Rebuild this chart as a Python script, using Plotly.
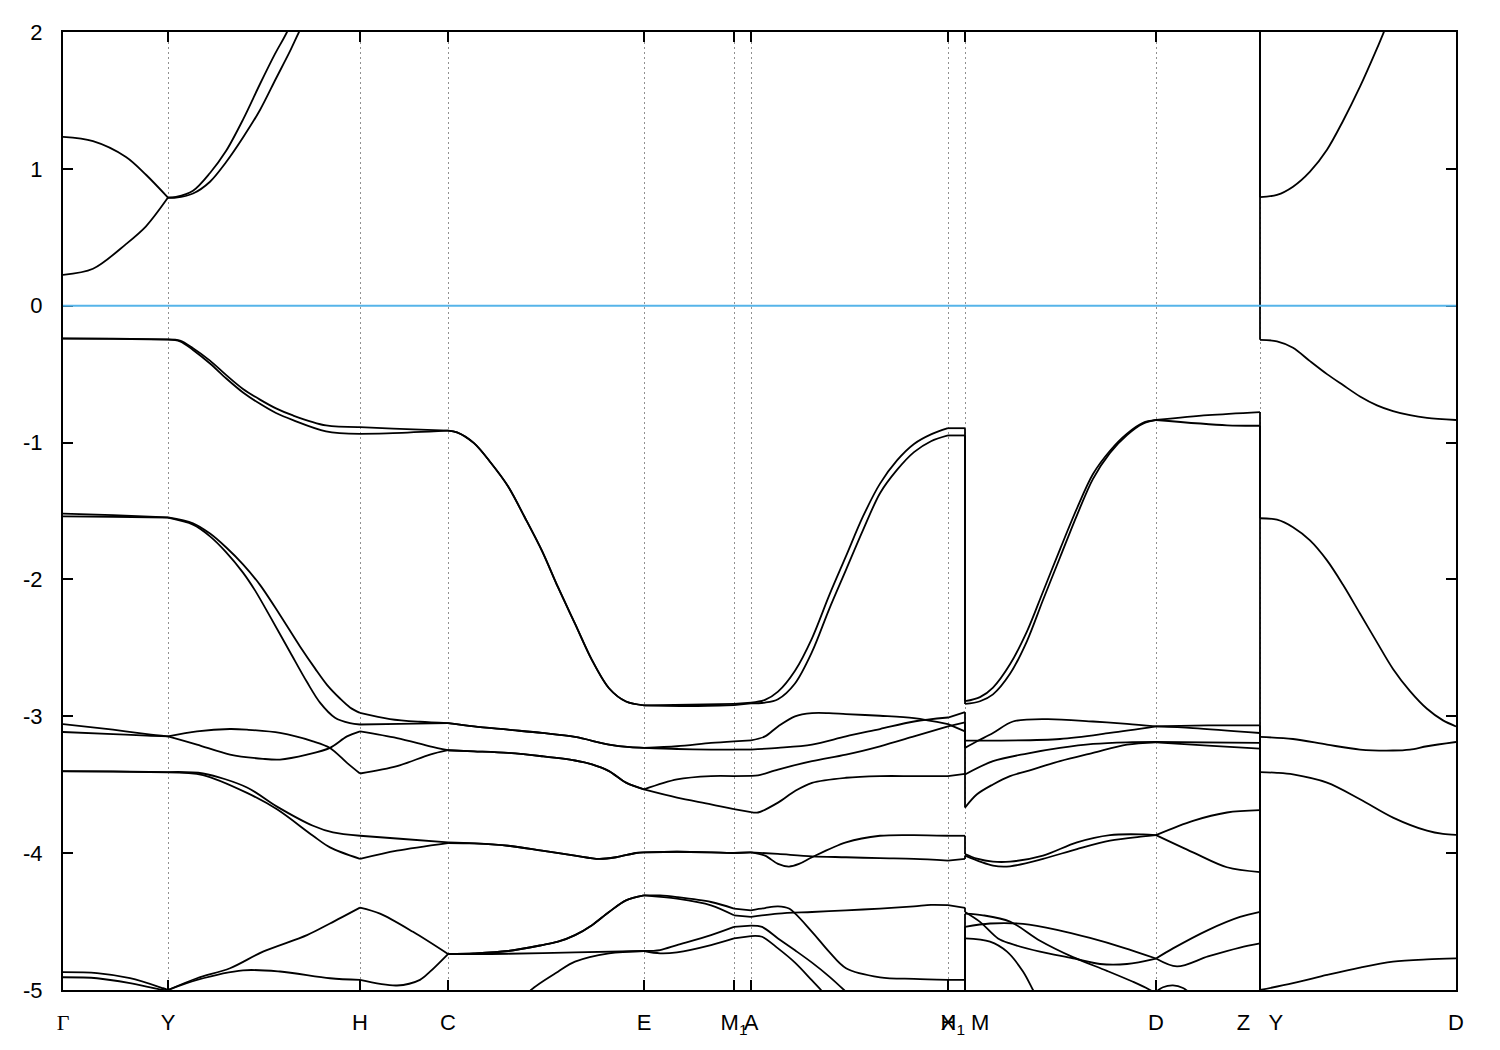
import plotly.graph_objects as go

# ---------------- axes / labels ----------------
K_POS = [0.000, 0.105, 0.297, 0.385, 0.581, 0.671, 0.688, 0.885, 0.902, 1.093, 1.197, 1.393]
K_TEXT = ["<span style='font-family:Liberation Serif'>Γ</span>", "Y", "H", "C", "E",
          "M<sub>1</sub>", "A", "X", "H<sub>1</sub> M", "D", "Z\u00a0\u00a0\u00a0Y", "D"]
BREAKS = [0.902, 1.197]
E_TICKS = [2, 1, 0, -1, -2, -3, -4, -5]
E_TEXT = ["2", "1", "0", "-1", "-2", "-3", "-4", "-5"]
E_RANGE = [-5, 2]
E_FERMI = 0.0
E_FLOOR = -6.0

# ---------------- band data (k, E) ----------------
# Region 1: Gamma -> H1
cb1_r1 = [(0.000, 0.225), (0.030, 0.27), (0.063, 0.45), (0.083, 0.58), (0.105, 0.79), (0.113, 0.79),
          (0.130, 0.82), (0.147, 0.906), (0.163, 1.048), (0.180, 1.229), (0.197, 1.43), (0.213, 1.66),
          (0.227, 1.86), (0.236, 2.0), (0.257, 2.3), (0.902, 4.0)]
cb2_r1 = [(0.000, 1.234), (0.030, 1.203), (0.063, 1.087), (0.083, 0.957), (0.105, 0.79), (0.113, 0.795),
          (0.130, 0.84), (0.147, 0.97), (0.163, 1.13), (0.180, 1.36), (0.197, 1.62), (0.212, 1.84),
          (0.224, 2.0), (0.245, 2.35), (0.902, 4.2)]

vb1_GC = [(0.000, -0.238), (0.050, -0.240), (0.105, -0.246), (0.117, -0.255), (0.130, -0.31), (0.147, -0.401),
          (0.163, -0.505), (0.180, -0.608), (0.197, -0.686), (0.213, -0.75), (0.230, -0.802), (0.263, -0.875),
          (0.297, -0.887), (0.330, -0.898), (0.385, -0.913)]
vb2_GC = [(0.000, -0.240), (0.050, -0.242), (0.105, -0.248), (0.117, -0.26), (0.130, -0.323), (0.147, -0.422),
          (0.163, -0.53), (0.180, -0.634), (0.197, -0.717), (0.213, -0.784), (0.230, -0.836), (0.263, -0.918),
          (0.297, -0.937), (0.330, -0.931), (0.385, -0.913)]
vb12_CE = [(0.385, -0.913), (0.394, -0.925), (0.411, -1.004), (0.428, -1.149), (0.445, -1.319), (0.462, -1.549),
           (0.479, -1.791), (0.495, -2.057), (0.512, -2.323), (0.529, -2.59), (0.546, -2.795), (0.563, -2.892),
           (0.581, -2.92)]
vb1_EH = [(0.581, -2.92), (0.627, -2.915), (0.671, -2.91), (0.688, -2.90), (0.702, -2.88), (0.715, -2.82),
          (0.732, -2.667), (0.749, -2.43), (0.766, -2.12), (0.783, -1.83), (0.800, -1.54), (0.817, -1.30),
          (0.834, -1.13), (0.851, -1.01), (0.868, -0.94), (0.885, -0.895), (0.902, -0.895)]
vb2_EH = [(0.581, -2.925), (0.627, -2.925), (0.671, -2.918), (0.688, -2.905), (0.702, -2.90), (0.715, -2.875),
          (0.732, -2.76), (0.749, -2.53), (0.766, -2.22), (0.783, -1.93), (0.800, -1.64), (0.817, -1.37),
          (0.834, -1.20), (0.851, -1.07), (0.868, -0.99), (0.885, -0.948), (0.902, -0.948)]

vb3_GC = [(0.000, -1.519), (0.050, -1.53), (0.105, -1.547), (0.130, -1.59), (0.147, -1.665), (0.163, -1.765),
          (0.180, -1.89), (0.197, -2.04), (0.217, -2.26), (0.237, -2.49), (0.252, -2.65), (0.264, -2.77),
          (0.277, -2.87), (0.287, -2.935), (0.297, -2.975), (0.327, -3.02), (0.357, -3.04), (0.385, -3.05)]
vb4_GC = [(0.000, -1.539), (0.050, -1.542), (0.105, -1.549), (0.130, -1.60), (0.147, -1.685), (0.163, -1.80),
          (0.180, -1.95), (0.192, -2.08), (0.207, -2.27), (0.227, -2.53), (0.244, -2.75), (0.257, -2.90),
          (0.272, -3.01), (0.287, -3.05), (0.297, -3.06), (0.337, -3.055), (0.385, -3.05)]
vb34_CE = [(0.385, -3.05), (0.411, -3.074), (0.445, -3.098), (0.479, -3.122), (0.512, -3.151), (0.546, -3.207),
           (0.567, -3.226), (0.581, -3.231)]
vb3_EH = [(0.581, -3.231), (0.614, -3.219), (0.648, -3.195), (0.671, -3.183), (0.688, -3.176), (0.702, -3.147),
          (0.715, -3.074), (0.732, -3.0), (0.749, -2.977), (0.766, -2.977), (0.783, -2.984), (0.817, -2.996),
          (0.851, -3.013), (0.885, -3.057), (0.902, -3.11)]
vb4_EH = [(0.581, -3.235), (0.614, -3.239), (0.648, -3.243), (0.671, -3.243), (0.688, -3.243), (0.715, -3.231),
          (0.749, -3.207), (0.783, -3.147), (0.817, -3.093), (0.851, -3.038), (0.885, -3.009), (0.902, -2.97)]

vb5_GC = [(0.000, -3.057), (0.050, -3.098), (0.084, -3.13), (0.105, -3.147), (0.134, -3.11), (0.167, -3.093),
          (0.184, -3.098), (0.217, -3.122), (0.250, -3.183), (0.267, -3.231), (0.284, -3.34), (0.297, -3.418),
          (0.334, -3.364), (0.367, -3.28), (0.385, -3.248)]
vb6_GC = [(0.000, -3.115), (0.050, -3.13), (0.084, -3.142), (0.105, -3.147), (0.134, -3.207), (0.167, -3.28),
          (0.200, -3.311), (0.217, -3.316), (0.244, -3.28), (0.267, -3.231), (0.284, -3.147), (0.297, -3.11),
          (0.334, -3.159), (0.367, -3.219), (0.385, -3.248)]
vb56_CE = [(0.385, -3.248), (0.411, -3.256), (0.445, -3.268), (0.479, -3.292), (0.512, -3.323), (0.529, -3.352),
           (0.546, -3.401), (0.563, -3.485), (0.581, -3.534)]
vb5_EH = [(0.581, -3.534), (0.614, -3.461), (0.648, -3.437), (0.671, -3.437), (0.688, -3.435), (0.695, -3.432),
          (0.715, -3.389), (0.749, -3.328), (0.783, -3.28), (0.817, -3.219), (0.851, -3.147), (0.885, -3.074),
          (0.902, -3.045)]
vb6_EH = [(0.581, -3.534), (0.614, -3.594), (0.648, -3.643), (0.671, -3.679), (0.688, -3.70), (0.695, -3.703),
          (0.715, -3.631), (0.732, -3.546), (0.749, -3.486), (0.783, -3.449), (0.817, -3.437), (0.851, -3.437),
          (0.885, -3.437), (0.902, -3.42)]

vb7_GC = [(0.000, -3.401), (0.050, -3.402), (0.105, -3.408), (0.140, -3.418), (0.184, -3.52), (0.214, -3.66),
          (0.250, -3.80), (0.270, -3.849), (0.297, -3.873), (0.337, -3.895), (0.385, -3.922)]
vb8_GC = [(0.000, -3.403), (0.050, -3.404), (0.105, -3.41), (0.140, -3.43), (0.184, -3.56), (0.214, -3.68),
          (0.250, -3.873), (0.267, -3.958), (0.297, -4.042), (0.334, -3.982), (0.385, -3.926)]
vb78_CA = [(0.385, -3.924), (0.411, -3.929), (0.445, -3.946), (0.479, -3.982), (0.512, -4.018), (0.536, -4.042),
           (0.553, -4.03), (0.573, -3.999), (0.581, -3.994), (0.614, -3.99), (0.648, -3.994), (0.671, -3.999),
           (0.688, -3.994)]
vb7_AH = [(0.688, -3.994), (0.702, -4.018), (0.715, -4.079), (0.726, -4.098), (0.736, -4.079), (0.749, -4.03),
          (0.783, -3.921), (0.817, -3.873), (0.851, -3.868), (0.885, -3.873), (0.902, -3.873)]
vb8_AH = [(0.688, -3.994), (0.715, -4.006), (0.749, -4.023), (0.783, -4.03), (0.817, -4.037), (0.851, -4.042),
          (0.885, -4.054), (0.902, -4.042)]

vb9_GC = [(0.000, -4.87), (0.034, -4.877), (0.067, -4.914), (0.100, -4.987), (0.105, -5.0), (0.134, -4.914),
          (0.167, -4.841), (0.200, -4.72), (0.244, -4.599), (0.267, -4.514), (0.297, -4.398), (0.317, -4.442),
          (0.350, -4.575), (0.385, -4.737)]
vb10_GC = [(0.000, -4.907), (0.034, -4.914), (0.067, -4.95), (0.100, -4.999), (0.105, -5.0), (0.134, -4.926),
           (0.180, -4.856), (0.217, -4.865), (0.267, -4.914), (0.297, -4.926), (0.334, -4.967), (0.357, -4.926),
           (0.367, -4.866), (0.385, -4.737)]
vb910_CE = [(0.385, -4.737), (0.411, -4.732), (0.445, -4.715), (0.479, -4.672), (0.495, -4.647), (0.512, -4.599),
            (0.529, -4.526), (0.546, -4.43), (0.563, -4.345), (0.581, -4.309)]
vb9_EH = [(0.581, -4.309), (0.597, -4.309), (0.614, -4.321), (0.648, -4.357), (0.671, -4.405), (0.688, -4.418),
          (0.702, -4.401), (0.715, -4.389), (0.726, -4.405), (0.749, -4.575), (0.766, -4.72), (0.783, -4.841),
          (0.817, -4.907), (0.851, -4.919), (0.885, -4.926), (0.902, -4.926)]
vb10_EH = [(0.581, -4.309), (0.614, -4.333), (0.648, -4.381), (0.671, -4.454), (0.688, -4.466), (0.715, -4.442),
           (0.749, -4.43), (0.783, -4.418), (0.817, -4.405), (0.851, -4.389), (0.868, -4.378), (0.885, -4.38),
           (0.902, -4.40)]
vb11_CE = [(0.385, -4.737), (0.445, -4.735), (0.512, -4.725), (0.581, -4.715)]
vb11_EA = [(0.581, -4.715), (0.597, -4.708), (0.614, -4.672), (0.648, -4.599), (0.671, -4.539), (0.688, -4.529),
           (0.699, -4.539), (0.715, -4.623), (0.732, -4.71), (0.749, -4.80), (0.766, -4.90), (0.781, -5.0),
           (0.792, -5.08)]
vb12_EA = [(0.581, -4.715), (0.597, -4.732), (0.614, -4.725), (0.648, -4.672), (0.671, -4.623), (0.688, -4.606),
           (0.699, -4.611), (0.715, -4.696), (0.732, -4.80), (0.749, -4.93), (0.758, -5.0), (0.767, -5.08)]
vb12_low_CE = [(0.460, -5.08), (0.468, -5.0), (0.495, -4.866), (0.512, -4.793), (0.546, -4.732), (0.581, -4.715)]

# Region 2: M -> Z
cb1_r2 = [(0.902, 4.0), (1.093, 3.3), (1.197, 3.0)]
cb2_r2 = [(0.902, 4.2), (1.093, 3.5), (1.197, 3.2)]
vb1_r2 = [(0.902, -2.89), (0.917, -2.86), (0.930, -2.79), (0.947, -2.62), (0.964, -2.38), (0.980, -2.09),
          (0.997, -1.78), (1.014, -1.48), (1.030, -1.23), (1.047, -1.06), (1.064, -0.935), (1.080, -0.856),
          (1.093, -0.835), (1.145, -0.80), (1.197, -0.777)]
vb2_r2 = [(0.902, -2.91), (0.917, -2.89), (0.930, -2.84), (0.947, -2.69), (0.964, -2.45), (0.980, -2.15),
          (0.997, -1.84), (1.014, -1.53), (1.030, -1.265), (1.047, -1.075), (1.064, -0.945), (1.080, -0.862),
          (1.093, -0.835), (1.164, -0.874), (1.197, -0.877)]
vb3_r2 = [(0.902, -3.231), (0.914, -3.183), (0.930, -3.122), (0.950, -3.038), (0.984, -3.021), (1.030, -3.038),
          (1.064, -3.055), (1.093, -3.074), (1.145, -3.067), (1.197, -3.067)]
vb4_r2 = [(0.902, -3.178), (0.930, -3.178), (0.997, -3.166), (1.047, -3.122), (1.093, -3.074), (1.130, -3.086),
          (1.197, -3.122)]
vb5_r2 = [(0.902, -3.425), (0.930, -3.328), (0.964, -3.272), (0.997, -3.231), (1.030, -3.202), (1.064, -3.19),
          (1.093, -3.188), (1.197, -3.195)]
vb6_r2 = [(0.902, -3.667), (0.914, -3.57), (0.930, -3.498), (0.947, -3.437), (0.964, -3.401), (0.997, -3.328),
          (1.030, -3.268), (1.064, -3.207), (1.093, -3.19), (1.145, -3.215), (1.197, -3.236)]
vb7_r2 = [(0.902, -4.006), (0.914, -4.04), (0.930, -4.062), (0.947, -4.062), (0.980, -4.018), (1.014, -3.921),
          (1.047, -3.868), (1.080, -3.863), (1.093, -3.868), (1.130, -3.764), (1.164, -3.703), (1.197, -3.686)]
vb8_r2 = [(0.902, -4.018), (0.930, -4.091), (0.947, -4.096), (0.980, -4.042), (1.014, -3.97), (1.047, -3.909),
          (1.080, -3.878), (1.093, -3.868), (1.130, -3.994), (1.164, -4.103), (1.197, -4.139)]
vb9_r2 = [(0.902, -4.43), (0.917, -4.502), (0.935, -4.623), (0.947, -4.66), (0.977, -4.72), (1.010, -4.768),
          (1.037, -4.81), (1.064, -4.81), (1.093, -4.77), (1.110, -4.696), (1.145, -4.562), (1.177, -4.466),
          (1.197, -4.429)]
vb10_r2 = [(0.902, -4.442), (0.920, -4.454), (0.947, -4.50), (0.977, -4.64), (1.010, -4.76), (1.044, -4.86),
           (1.070, -4.94), (1.087, -5.0), (1.097, -5.05)]
vb11_r2 = [(0.902, -4.538), (0.927, -4.514), (0.960, -4.517), (0.994, -4.56), (1.027, -4.62), (1.060, -4.69),
           (1.093, -4.77), (1.114, -4.828), (1.145, -4.755), (1.177, -4.69), (1.197, -4.66)]
vb12_r2 = [(0.902, -4.623), (0.927, -4.647), (0.944, -4.72), (0.960, -4.865), (0.970, -5.0), (0.977, -5.1)]
vb13_r2 = [(1.090, -5.03), (1.100, -4.98), (1.110, -4.966), (1.120, -4.985), (1.128, -5.03)]

# Region 3: Y -> D
cb_r3 = [(1.197, 0.793), (1.214, 0.81), (1.230, 0.87), (1.247, 0.98), (1.264, 1.14), (1.280, 1.35),
         (1.297, 1.60), (1.314, 1.88), (1.322, 2.02), (1.335, 2.25)]
vb12_r3 = [(1.197, -0.249), (1.214, -0.26), (1.230, -0.307), (1.247, -0.405), (1.264, -0.50), (1.280, -0.58),
           (1.297, -0.663), (1.314, -0.728), (1.330, -0.77), (1.347, -0.80), (1.364, -0.819), (1.393, -0.835)]
vb34_r3 = [(1.197, -1.553), (1.214, -1.563), (1.230, -1.618), (1.247, -1.715), (1.264, -1.861), (1.280, -2.039),
           (1.297, -2.249), (1.314, -2.46), (1.330, -2.654), (1.347, -2.816), (1.364, -2.945), (1.380, -3.03),
           (1.393, -3.074)]
vb56_r3 = [(1.197, -3.151), (1.230, -3.166), (1.264, -3.207), (1.297, -3.243), (1.330, -3.25), (1.347, -3.243),
           (1.364, -3.219), (1.393, -3.188)]
vb78_r3 = [(1.197, -3.408), (1.214, -3.413), (1.230, -3.425), (1.264, -3.485), (1.297, -3.606), (1.330, -3.74),
           (1.364, -3.836), (1.380, -3.86), (1.393, -3.866)]
vb910_r3 = [(1.197, -5.0), (1.230, -4.95), (1.264, -4.89), (1.297, -4.836), (1.330, -4.793), (1.364, -4.776),
            (1.393, -4.769)]


def join(*parts):
    out = []
    for p in parts:
        for k, e in p:
            if out and abs(out[-1][0] - k) < 1e-9:
                continue
            out.append((k, e))
    return out


curves = [
    cb1_r1, cb2_r1,
    join(vb1_GC, vb12_CE, vb1_EH), join(vb2_GC, vb12_CE, vb2_EH),
    join(vb3_GC, vb34_CE, vb3_EH), join(vb4_GC, vb34_CE, vb4_EH),
    join(vb5_GC, vb56_CE, vb5_EH), join(vb6_GC, vb56_CE, vb6_EH),
    join(vb7_GC, vb78_CA, vb7_AH), join(vb8_GC, vb78_CA, vb8_AH),
    join(vb9_GC, vb910_CE, vb9_EH), join(vb10_GC, vb910_CE, vb10_EH),
    join(vb11_CE, vb11_EA), vb12_EA, vb12_low_CE,
    cb1_r2, cb2_r2, vb1_r2, vb2_r2, vb3_r2, vb4_r2, vb5_r2, vb6_r2, vb7_r2, vb8_r2,
    vb9_r2, vb10_r2, vb11_r2, vb12_r2, vb13_r2,
    cb_r3, vb12_r3, vb34_r3, vb56_r3, vb78_r3, vb910_r3,
]

# split each curve at high-symmetry points so kinks stay sharp
hs = K_POS
xs, ys = [], []
for c in curves:
    piece = [c[0]]
    for pt in c[1:]:
        piece.append(pt)
        if any(abs(pt[0] - h) < 1e-9 for h in hs):
            xs += [p[0] for p in piece] + [None]
            ys += [p[1] for p in piece] + [None]
            piece = [pt]
    if len(piece) > 1:
        xs += [p[0] for p in piece] + [None]
        ys += [p[1] for p in piece] + [None]

# band jumps at the path breaks (same band index on both sides)
jx, jy = [], []
for kb in BREAKS:
    left = sorted([c[-1][1] for c in curves if abs(c[-1][0] - kb) < 1e-9], reverse=True)
    right = sorted([c[0][1] for c in curves if abs(c[0][0] - kb) < 1e-9], reverse=True)
    n = max(len(left), len(right))
    left += [E_FLOOR] * (n - len(left))
    right += [E_FLOOR] * (n - len(right))
    for a, b in zip(left, right):
        jx += [kb, kb, None]
        jy += [a, b, None]

fig = go.Figure()
fig.add_trace(go.Scatter(x=xs, y=ys, mode="lines",
                         line=dict(color="black", width=1.8, shape="spline", smoothing=0.9),
                         hoverinfo="skip"))
fig.add_trace(go.Scatter(x=jx, y=jy, mode="lines", line=dict(color="black", width=1.8),
                         hoverinfo="skip"))
fig.add_hline(y=E_FERMI, line=dict(color="#56b4e9", width=2))

fig.update_layout(
    width=1492, height=1042, autosize=False,
    margin=dict(l=55, r=44, t=18, b=57),
    paper_bgcolor="white", plot_bgcolor="white", showlegend=False,
    font=dict(family="Liberation Sans, Arial, sans-serif", size=22, color="black"),
)
fig.update_xaxes(range=[0, 1.393], tickmode="array", tickvals=K_POS, ticktext=K_TEXT, tickangle=0,
                 ticks="inside", ticklen=10, tickwidth=1.5, tickcolor="black",
                 showline=True, linewidth=2, linecolor="black", mirror="ticks",
                 showgrid=True, gridcolor="#909090", gridwidth=1, griddash="2px,3px",
                 zeroline=False, ticklabelstandoff=12)
fig.update_yaxes(range=E_RANGE, tickmode="array", tickvals=E_TICKS, ticktext=E_TEXT,
                 ticks="inside", ticklen=10, tickwidth=1.5, tickcolor="black",
                 showline=True, linewidth=2, linecolor="black", mirror="ticks",
                 showgrid=False, zeroline=False, ticklabelstandoff=14)

fig.write_html("out.html")
